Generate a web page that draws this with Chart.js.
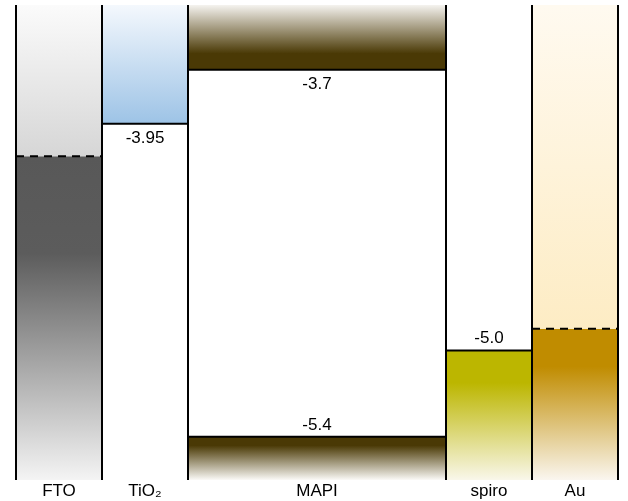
<!DOCTYPE html>
<html>
<head>
<meta charset="utf-8">
<script src="https://cdn.jsdelivr.net/npm/chart.js@4.4.0/dist/chart.umd.min.js"></script>
<style>
    body { margin: 0; background: #fff; }
</style>
</head>
<body>
<canvas id="bandDiagram" width="628" height="501"></canvas>
<script>
// layer names and relative column widths
const materials = ['FTO', 'TiO₂', 'MAPI', 'spiro', 'Au'];
const widths = [1, 1, 3, 1, 1];

// energy levels in eV (null = not drawn)
const conductionBand = [null, -3.95, -3.7, null, null];
const valenceBand = [null, null, -5.4, -5.0, null];
const fermiLevel = [-4.1, null, null, null, -4.9];

// energy range shown
const energyTop = -3.4;
const energyBottom = -5.6;

const edges = [0];
widths.forEach(w => edges.push(edges[edges.length - 1] + w));
const centers = materials.map((m, i) => edges[i] + widths[i] / 2);

Chart.defaults.font.family = '"Liberation Sans", Arial, sans-serif';

function gradient(stops, fromValue, toValue) {
    return function (context) {
        const chart = context.chart;
        if (!chart.chartArea) return null;
        const y = chart.scales.y;
        const g = chart.ctx.createLinearGradient(0, y.getPixelForValue(fromValue), 0, y.getPixelForValue(toValue));
        stops.forEach(s => g.addColorStop(s[0], s[1]));
        return g;
    };
}

// filled block from a level up to the top or down to the bottom
function block(i, level, toValue, stops) {
    return {
        data: [{ x: edges[i], y: level }, { x: edges[i + 1], y: level }],
        fill: { value: toValue },
        backgroundColor: gradient(stops, level, toValue),
        borderWidth: 0,
        pointRadius: 0,
        order: 2
    };
}

function line(points, dash) {
    return {
        data: points,
        borderColor: '#000',
        borderWidth: 2,
        borderDash: dash || [],
        pointRadius: 0,
        fill: false,
        clip: false,
        order: 1
    };
}

const datasets = [
    block(0, fermiLevel[0], energyTop, [[0, '#d6d6d6'], [1, '#fbfbfb']]),
    block(0, fermiLevel[0], energyBottom, [[0, '#585858'], [0.3, '#5c5c5c'], [1, '#f4f4f4']]),
    block(1, conductionBand[1], energyTop, [[0, '#9dc3e6'], [1, '#f4f8fd']]),
    block(2, conductionBand[2], energyTop, [[0, '#4a3905'], [0.25, '#4a3905'], [1, '#f5f3ef']]),
    block(2, valenceBand[2], energyBottom, [[0, '#4a3905'], [0.2, '#4a3905'], [1, '#fbfaf7']]),
    block(3, valenceBand[3], energyBottom, [[0, '#bcb600'], [0.25, '#bcb600'], [1, '#f9f7ea']]),
    block(4, fermiLevel[4], energyTop, [[0, '#fdecc4'], [1, '#fffaf0']]),
    block(4, fermiLevel[4], energyBottom, [[0, '#c08c00'], [0.25, '#c08c00'], [1, '#faf6ef']])
];

// column separators
edges.forEach(x => {
    datasets.push(line([{ x: x, y: energyTop }, { x: x, y: energyBottom }]));
});

// band edges and fermi levels
materials.forEach((m, i) => {
    [conductionBand[i], valenceBand[i]].forEach(v => {
        if (v !== null) datasets.push(line([{ x: edges[i], y: v }, { x: edges[i + 1], y: v }]));
    });
    if (fermiLevel[i] !== null) {
        datasets.push(line([{ x: edges[i], y: fermiLevel[i] }, { x: edges[i + 1], y: fermiLevel[i] }], [8, 6]));
    }
});

function formatLevel(v) {
    return Number.isInteger(Math.round(v * 100) / 10) ? v.toFixed(1) : v.toFixed(2);
}

const levelLabels = {
    id: 'levelLabels',
    afterDatasetsDraw(chart) {
        const ctx = chart.ctx;
        const x = chart.scales.x;
        const y = chart.scales.y;
        ctx.save();
        ctx.font = '17px "Liberation Sans", Arial, sans-serif';
        ctx.fillStyle = '#000';
        ctx.textAlign = 'center';
        ctx.textBaseline = 'middle';
        materials.forEach((m, i) => {
            const cx = x.getPixelForValue(centers[i]);
            if (conductionBand[i] !== null) {
                ctx.fillText(formatLevel(conductionBand[i]), cx, y.getPixelForValue(conductionBand[i]) + 15);
            }
            if (valenceBand[i] !== null) {
                ctx.fillText(formatLevel(valenceBand[i]), cx, y.getPixelForValue(valenceBand[i]) - 12);
            }
        });
        ctx.restore();
    }
};

new Chart(document.getElementById('bandDiagram'), {
    type: 'line',
    data: { datasets: datasets },
    plugins: [levelLabels],
    options: {
        responsive: false,
        animation: false,
        layout: { padding: { left: 16, right: 10, top: 5, bottom: 0 } },
        plugins: {
            legend: { display: false },
            tooltip: { enabled: false }
        },
        scales: {
            x: {
                type: 'linear',
                min: 0,
                max: edges[edges.length - 1],
                grid: { display: false, drawTicks: false },
                border: { display: false },
                afterBuildTicks: axis => {
                    axis.ticks = centers.map(v => ({ value: v }));
                },
                afterFit: axis => {
                    axis.height = 21;
                },
                ticks: {
                    autoSkip: false,
                    maxRotation: 0,
                    padding: 1,
                    color: '#000',
                    font: { size: 17 },
                    callback: (value, index) => materials[index]
                }
            },
            y: {
                display: false,
                min: energyBottom,
                max: energyTop
            }
        }
    }
});
</script>
</body>
</html>
